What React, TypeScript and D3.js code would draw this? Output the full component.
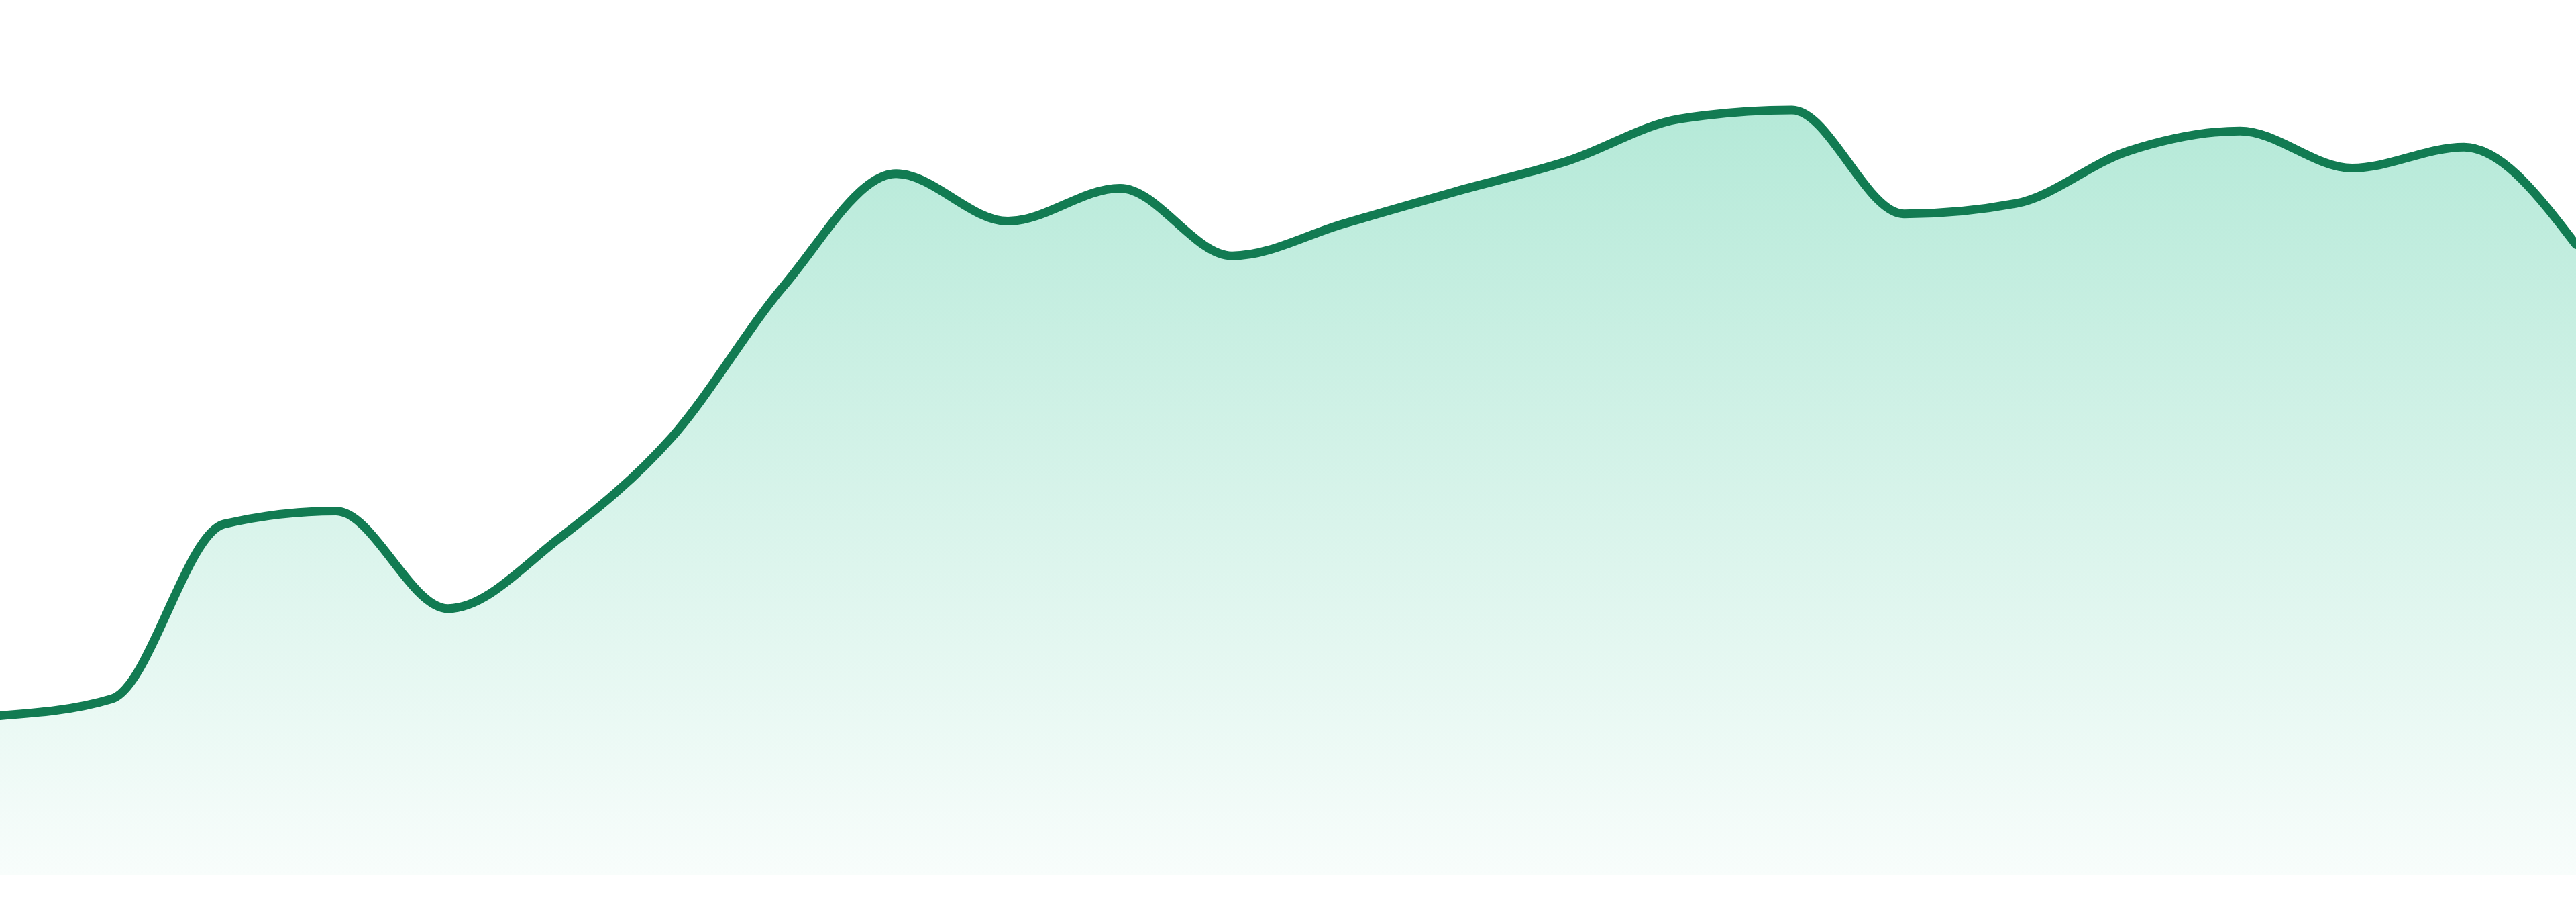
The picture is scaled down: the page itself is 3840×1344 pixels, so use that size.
import { useEffect, useRef } from "react";
import * as d3 from "d3";

// one value per evenly spaced step
const STEPS = d3.range(24);
const VALUES = [
  19.8, 21.9, 43.6, 45.2, 33.1, 41.9, 54.4, 73.2, 87.1, 81.2, 85.3, 76.9,
  80.9, 84.9, 88.7, 93.9, 95.0, 82.1, 83.4, 89.9, 92.4, 87.8, 90.4, 78.3,
];
const Y_DOMAIN = [0, 100];

const W = 3840;
const H = 1344;
const margin = { top: 104, right: 0, bottom: 40, left: 0 };

export default function App() {
  const svgRef = useRef<SVGSVGElement>(null);

  useEffect(() => {
    document.body.style.margin = "0";
    if (!svgRef.current) return;

    const svg = d3.select(svgRef.current);
    svg.selectAll("*").remove();

    const x = d3
      .scaleLinear()
      .domain(d3.extent(STEPS) as [number, number])
      .range([margin.left, W - margin.right]);
    const y = d3
      .scaleLinear()
      .domain(Y_DOMAIN)
      .range([H - margin.bottom, margin.top]);

    const data = STEPS.map((s, i) => ({ s, v: VALUES[i] }));

    const defs = svg.append("defs");
    const grad = defs
      .append("linearGradient")
      .attr("id", "areaFill")
      .attr("x1", 0)
      .attr("y1", 0)
      .attr("x2", 0)
      .attr("y2", 1);
    grad
      .append("stop")
      .attr("offset", "0%")
      .attr("stop-color", "#10b981")
      .attr("stop-opacity", 0.31);
    grad
      .append("stop")
      .attr("offset", "100%")
      .attr("stop-color", "#10b981")
      .attr("stop-opacity", 0.03);

    const area = d3
      .area<{ s: number; v: number }>()
      .x((d) => x(d.s))
      .y0(y(0))
      .y1((d) => y(d.v))
      .curve(d3.curveMonotoneX);

    const line = d3
      .line<{ s: number; v: number }>()
      .x((d) => x(d.s))
      .y((d) => y(d.v))
      .curve(d3.curveMonotoneX);

    svg
      .append("path")
      .datum(data)
      .attr("d", area)
      .attr("fill", "url(#areaFill)");

    svg
      .append("path")
      .datum(data)
      .attr("d", line)
      .attr("fill", "none")
      .attr("stroke", "#127b52")
      .attr("stroke-width", 13)
      .attr("stroke-linejoin", "round")
      .attr("stroke-linecap", "round");
  }, []);

  return (
    <svg
      ref={svgRef}
      width={W}
      height={H}
      style={{ display: "block", background: "#fff" }}
    />
  );
}
